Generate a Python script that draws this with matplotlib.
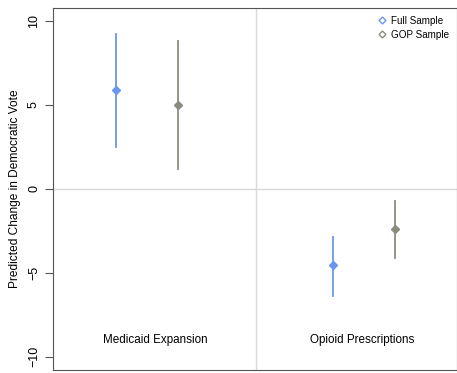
import matplotlib
matplotlib.use("Agg")
import matplotlib.pyplot as plt

# policy effects, full sample vs GOP sample
policies = ["Medicaid Expansion", "Opioid Prescriptions"]
full_est = [5.87, -4.55]
full_lo = [2.5, -6.4]
full_hi = [9.2, -2.85]
gop_est = [4.97, -2.4]
gop_lo = [1.15, -4.1]
gop_hi = [8.8, -0.72]
yticks = [-10, -5, 0, 5, 10]

blue = "#6A96EC"
gray = "#8C8C7E"

fig = plt.figure(figsize=(4.57, 3.73), dpi=100)
ax = fig.add_axes([52.5 / 457, 1 - 370 / 373, (456.5 - 52.5) / 457, (370 - 7.5) / 373])
plt.rcParams["font.family"] = ["Liberation Sans", "DejaVu Sans"]

ax.axhline(0, color="#d9d9d9", lw=1, zorder=0)
ax.axvline(1.5, color="#d9d9d9", lw=1, zorder=0)

off = 0.143
label_shift = [0.04, -0.01]
for i in range(len(policies)):
    x = i + 1
    ax.plot([x - off, x - off], [full_lo[i], full_hi[i]], color=blue, lw=1.3)
    ax.plot(x - off, full_est[i], marker="D", ms=4.2, color=blue, mec=blue)
    ax.plot([x + off, x + off], [gop_lo[i], gop_hi[i]], color=gray, lw=1.3)
    ax.plot(x + off, gop_est[i], marker="D", ms=4.2, color=gray, mec=gray)
    ax.text(x + label_shift[i], -9.0, policies[i], ha="center", va="center",
            fontsize=8.4, family="Liberation Sans")

ax.plot([], [], marker="D", ls="none", ms=3.5, mfc="white", mec=blue, label="Full Sample")
ax.plot([], [], marker="D", ls="none", ms=3.5, mfc="white", mec=gray, label="GOP Sample")
leg = ax.legend(loc="upper right", bbox_to_anchor=(0.992, 0.988), borderaxespad=0,
                frameon=False, fontsize=7.1, handletextpad=0.35,
                labelspacing=0.4, handlelength=1.2)
for t in leg.get_texts():
    t.set_family("Liberation Sans")

ax.set_xlim(0.565, 2.425)
ax.set_ylim(-10.8, 10.8)
ax.set_xticks([])
ax.set_yticks(yticks)
ax.set_yticklabels([str(v).replace("-", "\u2212") for v in yticks], rotation=90,
                   va="center", fontsize=9, family="Liberation Sans")
ax.tick_params(axis="y", length=6, width=0.8, color="#555555", pad=3)
for s in ax.spines.values():
    s.set_color("#555555")
    s.set_linewidth(0.8)
ax.set_ylabel("Predicted Change in Democratic Vote", fontsize=8.6,
              family="Liberation Sans", labelpad=5)

fig.savefig("out.png", dpi=100)
